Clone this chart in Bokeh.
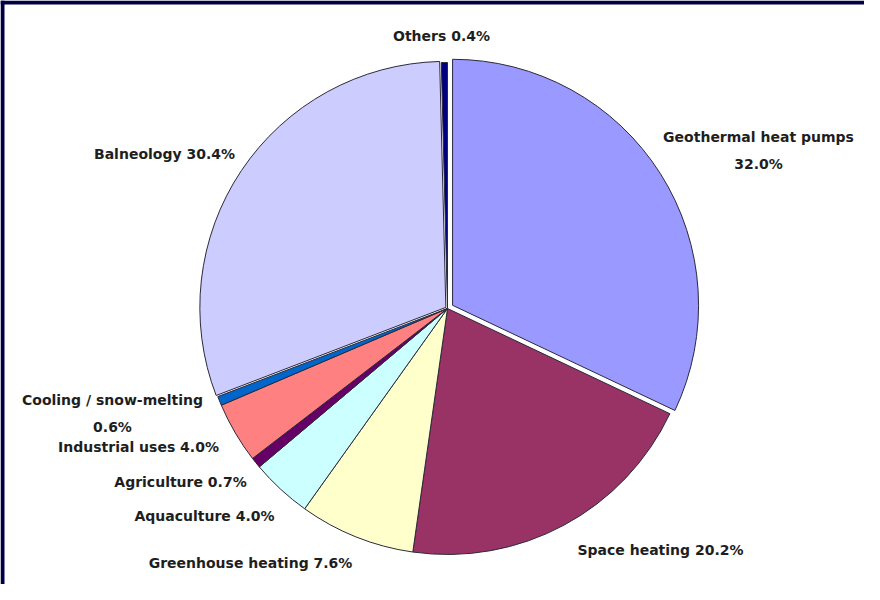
import math
from bokeh.plotting import figure
from bokeh.models import Range1d, ColumnDataSource
from bokeh.core.properties import value
from bokeh.embed import file_html
from bokeh.resources import INLINE

# ---- data (clockwise from 12 o'clock) ----
categories = ["Geothermal heat pumps", "Space heating", "Greenhouse heating",
              "Aquaculture", "Agriculture", "Industrial uses",
              "Cooling / snow-melting", "Balneology", "Others"]
shares = [32.0, 20.2, 7.6, 4.0, 0.7, 4.0, 0.6, 30.4, 0.4]
colors = ["#9999FF", "#993366", "#FFFFCC", "#CCFFFF", "#660066",
          "#FF8080", "#0066CC", "#CCCCFF", "#000080"]
explode = [6, 0, 0, 0, 0, 0, 0, 2, 0]

# ---- layout ----
W, H = 864, 584
TOP = 600          # data y of the screen's top edge (data y = 600 - pixel row)
CX, CY = 447, TOP - 308  # pie centre (data units == pixels)
R = 246

p = figure(width=W, height=H, x_range=Range1d(0, W), y_range=Range1d(TOP - H, TOP),
           output_backend="svg", toolbar_location=None, min_border=0,
           background_fill_color="white", border_fill_color="white")
p.axis.visible = False
p.grid.visible = False
p.outline_line_color = None

# dark frame strips along the top and left edges
p.quad(left=[0, 0], right=[W, 4], bottom=[TOP - 4, TOP - H], top=[TOP, TOP],
       fill_color="#000044", line_color=None)

total = sum(shares)
xs, ys, starts, ends = [], [], [], []
cum = 0.0
for s, e in zip(shares, explode):
    a0 = 90 - (cum + s) / total * 360
    a1 = 90 - cum / total * 360
    mid = math.radians((a0 + a1) / 2)
    xs.append(CX + e * math.cos(mid))
    ys.append(CY + e * math.sin(mid))
    starts.append(math.radians(a0))
    ends.append(math.radians(a1))
    cum += s

src = ColumnDataSource(dict(x=xs, y=ys, start=starts, end=ends, color=colors))
p.wedge(x="x", y="y", radius=R, start_angle="start", end_angle="end",
        fill_color="color", line_color="#2a2a3a", line_width=1, source=src)

# ---- labels (positions are layout, in data units) ----
label_texts = []
for c, s in zip(categories, shares):
    if c in ("Geothermal heat pumps", "Cooling / snow-melting"):
        label_texts.append(f"{c}\n{s:.1f}%")
    else:
        label_texts.append(f"{c} {s:.1f}%")

label_pos = {
    "Geothermal heat pumps": (758, TOP - 150),
    "Space heating": (660, TOP - 549),
    "Greenhouse heating": (250, TOP - 562),
    "Aquaculture": (204, TOP - 515),
    "Agriculture": (180, TOP - 481),
    "Industrial uses": (138, TOP - 446),
    "Cooling / snow-melting": (112, TOP - 413),
    "Balneology": (164, TOP - 153),
    "Others": (441, TOP - 35),
}
lsrc = ColumnDataSource(dict(
    x=[label_pos[c][0] for c in categories],
    y=[label_pos[c][1] for c in categories],
    text=label_texts))
p.text(x="x", y="y", text="text", source=lsrc, text_align="center",
       text_baseline="middle", text_font=value("DejaVu Sans"),
       text_font_style="bold", text_font_size="14px", text_color="#1e1e1e",
       text_line_height=1.65)

open("out.html", "w").write(file_html(p, INLINE))
